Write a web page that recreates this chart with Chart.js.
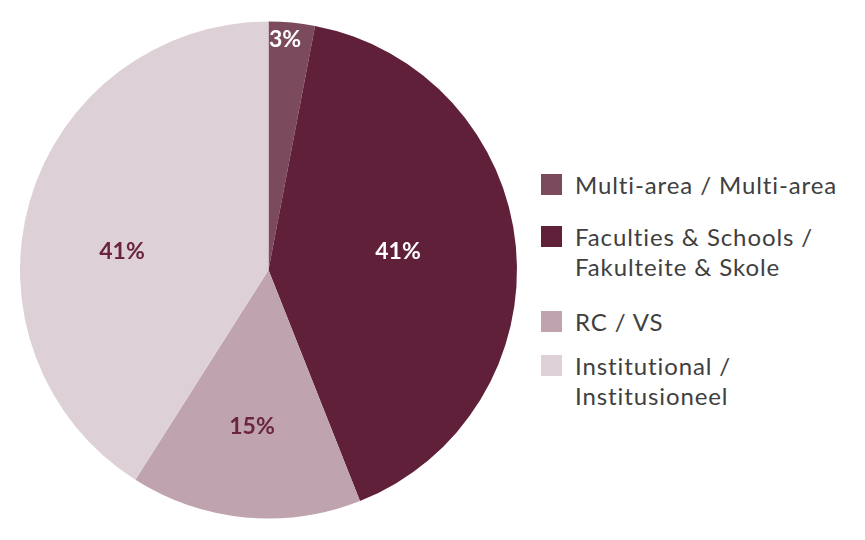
<!DOCTYPE html>
<html><head><meta charset="utf-8">
<script src="https://cdn.jsdelivr.net/npm/chart.js@4/dist/chart.umd.min.js"></script>
<style>
html,body{margin:0;padding:0;background:#fff;width:865px;height:540px;overflow:hidden;font-family:Lato,"Open Sans",sans-serif;}
#wrap{position:absolute;left:0;top:0;width:537px;height:540px;}
.item{position:absolute;left:541px;display:flex;align-items:flex-start;}
.box{width:21px;height:21px;flex:none;margin-top:4px;margin-right:13px;}
.txt{font-size:24px;line-height:30px;color:#404040;letter-spacing:0.9px;white-space:nowrap;}
</style></head><body>
<div id="wrap"><canvas id="c"></canvas></div>
<div id="legend"></div>
<script>
const categories = ["Multi-area / Multi-area", "Faculties & Schools / Fakulteite & Skole", "RC / VS", "Institutional / Institusioneel"];
const legendLines = [["Multi-area / Multi-area"], ["Faculties & Schools /", "Fakulteite & Skole"], ["RC / VS"], ["Institutional /", "Institusioneel"]];
const values = [3, 41, 15, 41];
const labelsText = ["3%", "41%", "15%", "41%"];
const colors = ["#7b4a5c", "#60203a", "#bfa4af", "#ddd1d7"];
const labelColors = ["#ffffff", "#ffffff", "#6a2340", "#6a2340"];
const labelRadius = [0.928, 0.526, 0.635, 0.594];
const labelAngleShift = [-1.3, -2.5, 0.6, -9.2];
const legendTops = [170, 222, 307, 351];

const pctPlugin = {
  id: 'pct',
  afterDatasetsDraw(chart) {
    const ctx = chart.ctx;
    const meta = chart.getDatasetMeta(0);
    meta.data.forEach((arc, i) => {
      const p = arc.getProps(['x','y','startAngle','endAngle','outerRadius'], true);
      const a = (p.startAngle + p.endAngle) / 2 + labelAngleShift[i] * Math.PI / 180;
      const r = p.outerRadius * labelRadius[i];
      ctx.save();
      ctx.font = 'bold 23px Lato, "Open Sans", sans-serif';
      ctx.fillStyle = labelColors[i];
      ctx.textAlign = 'center';
      ctx.textBaseline = 'middle';
      ctx.fillText(labelsText[i], p.x + Math.cos(a) * r, p.y + Math.sin(a) * r);
      ctx.restore();
    });
  }
};

new Chart(document.getElementById('c'), {
  type: 'pie',
  data: { labels: categories, datasets: [{ data: values, backgroundColor: colors, borderWidth: 0 }] },
  options: {
    responsive: true, maintainAspectRatio: false, animation: false,
    layout: { padding: { left: 20, right: 20, top: 20, bottom: 20 } },
    plugins: { legend: { display: false }, tooltip: { enabled: false } }
  },
  plugins: [pctPlugin]
});

const lg = document.getElementById('legend');
legendLines.forEach((lines, i) => {
  const it = document.createElement('div'); it.className = 'item'; it.style.top = legendTops[i] + 'px';
  const b = document.createElement('div'); b.className = 'box'; b.style.background = colors[i];
  const t = document.createElement('div'); t.className = 'txt'; t.innerHTML = lines.join('<br>');
  it.appendChild(b); it.appendChild(t); lg.appendChild(it);
});
</script>
</body></html>
